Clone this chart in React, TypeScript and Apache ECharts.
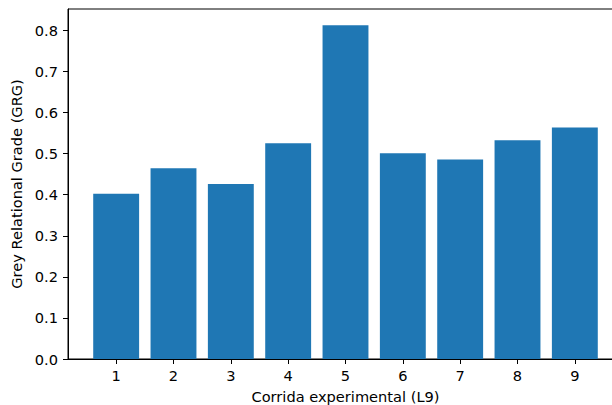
import React, { useEffect, useRef } from "react";
import * as echarts from "echarts";

const runs = [1, 2, 3, 4, 5, 6, 7, 8, 9];
const grg = [0.4024, 0.4644, 0.4261, 0.5254, 0.8122, 0.501, 0.4854, 0.5327, 0.5634];
const yTicks = [0, 0.1, 0.2, 0.3, 0.4, 0.5, 0.6, 0.7, 0.8];

const FONT = "DejaVu Sans";
const FS = 14.6;

export default function App() {
  const ref = useRef<HTMLDivElement>(null);
  useEffect(() => {
    if (!ref.current) return;
    const chart = echarts.init(ref.current, undefined, { renderer: "svg" });
    chart.setOption({
      animation: false,
      backgroundColor: "#fff",
      textStyle: { fontFamily: FONT },
      grid: {
        left: 68,
        top: 9,
        width: 555,
        height: 350,
        outerBoundsMode: "none",
        containLabel: false,
        show: true,
        borderColor: "#000",
        borderWidth: 1,
        backgroundColor: "transparent",
      },
      xAxis: {
        type: "value",
        min: 0.16,
        max: 9.84,
        name: "Corrida experimental (L9)",
        nameLocation: "middle",
        nameGap: 30,
        nameTextStyle: { fontFamily: FONT, fontSize: FS, color: "#000" },
        axisLine: { show: true, onZero: false, lineStyle: { color: "#000", width: 1 } },
        axisTick: { show: true, inside: false, length: 5, customValues: runs, lineStyle: { color: "#000" } },
        axisLabel: { customValues: runs, margin: 9, fontFamily: FONT, fontSize: FS, color: "#000", formatter: (v: number) => String(v) },
        splitLine: { show: false },
      },
      yAxis: {
        type: "value",
        min: 0,
        max: 0.852,
        name: "Grey Relational Grade (GRG)",
        nameLocation: "middle",
        nameGap: 43,
        nameTextStyle: { fontFamily: FONT, fontSize: FS, color: "#000" },
        axisLine: { show: true, lineStyle: { color: "#000", width: 1 } },
        axisTick: { show: true, inside: false, length: 5, customValues: yTicks, lineStyle: { color: "#000" } },
        axisLabel: { customValues: yTicks, margin: 10, fontFamily: FONT, fontSize: FS, color: "#000", formatter: (v: number) => v.toFixed(1) },
        splitLine: { show: false },
      },
      series: [
        {
          type: "bar",
          data: runs.map((r, i) => [r, grg[i]]),
          barWidth: 45.9,
          itemStyle: { color: "#1f77b4" },
        },
      ],
    });
    return () => chart.dispose();
  }, []);
  return <div ref={ref} style={{ width: 612, height: 405, position: "absolute", left: 0, top: 0 }} />;
}
